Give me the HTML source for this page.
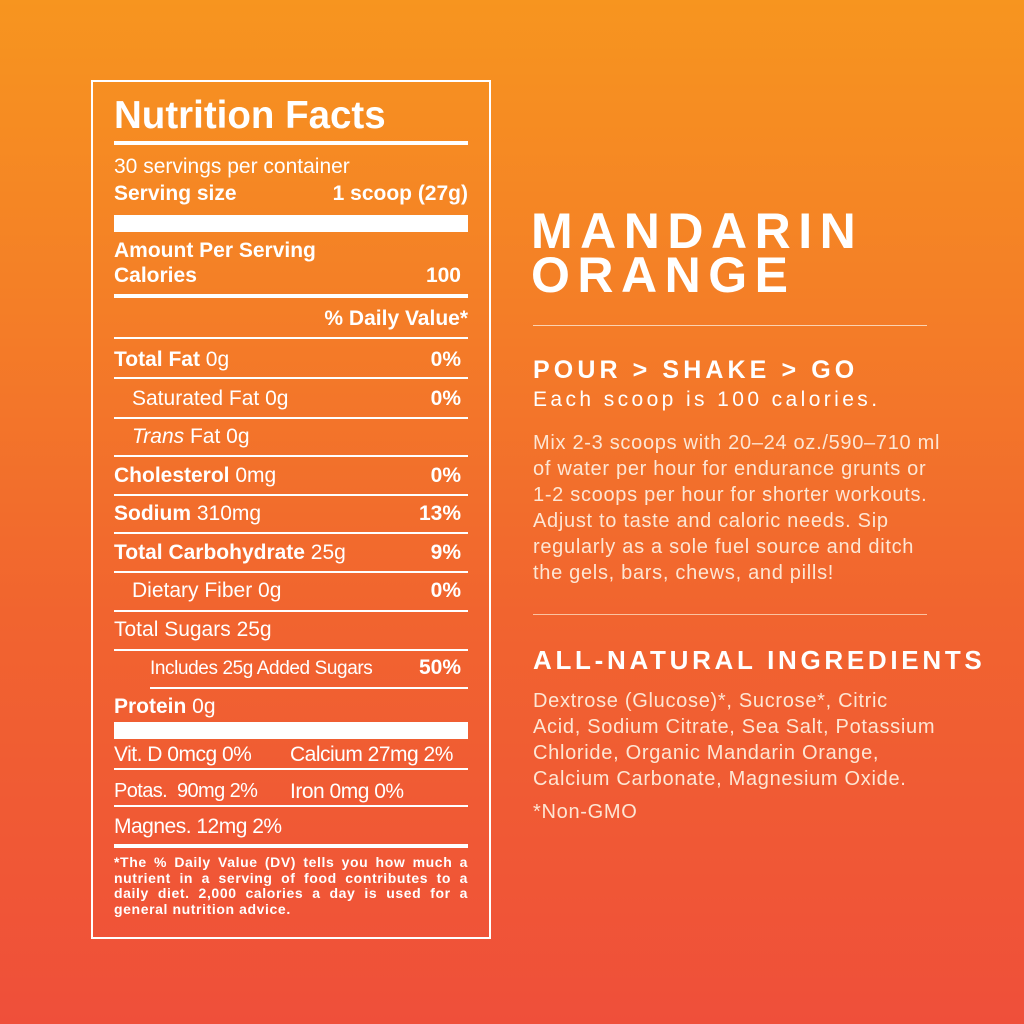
<!DOCTYPE html>
<html><head><meta charset="utf-8"><style>
*{margin:0;padding:0;box-sizing:border-box}
body{width:1024px;height:1024px;overflow:hidden;position:relative;background:linear-gradient(180deg,#F7951F 0%,#F47E27 30%,#F1642F 60%,#EF4F3A 100%);font-family:"Liberation Sans",sans-serif;color:#fff}
.t{position:absolute;white-space:nowrap;line-height:1}
.b{font-weight:bold}
.l{position:absolute;background:#fff}
.box{position:absolute;left:91px;top:80px;width:400px;height:859px;border:2px solid #fff}
.r{position:absolute;white-space:nowrap;line-height:1;color:#fde6d4}
</style></head><body>
<div class="box"></div>
<div class="t b" style="left:114px;top:97px;font-size:38.5px">Nutrition Facts</div>
<div class="l" style="left:114px;top:141px;width:354px;height:4px"></div>
<div class="t" style="left:114px;top:156px;font-size:21px">30 servings per container</div>
<div class="t b" style="left:114px;top:183px;font-size:21px;width:354px">Serving size<span style="position:absolute;right:0">1 scoop (27g)</span></div>
<div class="l" style="left:114px;top:215px;width:354px;height:17px"></div>
<div class="t b" style="left:114px;top:240px;font-size:21px">Amount Per Serving</div>
<div class="t b" style="left:114px;top:265px;font-size:21px;width:347px">Calories<span style="position:absolute;right:0">100</span></div>
<div class="l" style="left:114px;top:294px;width:354px;height:4px"></div>
<div class="t b" style="left:114px;top:308px;font-size:21px;width:354px;text-align:right">% Daily Value*</div>
<div class="l" style="left:114px;top:337px;width:354px;height:2px"></div>

<div class="t" style="left:114px;top:349px;font-size:21px;width:347px"><b>Total Fat</b> 0g<b style="position:absolute;right:0">0%</b></div>
<div class="l" style="left:114px;top:377px;width:354px;height:2px"></div>
<div class="t" style="left:132px;top:388px;font-size:21px;width:329px">Saturated Fat 0g<b style="position:absolute;right:0">0%</b></div>
<div class="l" style="left:114px;top:417px;width:354px;height:2px"></div>
<div class="t" style="left:132px;top:426px;font-size:21px"><i>Trans</i> Fat 0g</div>
<div class="l" style="left:114px;top:455px;width:354px;height:2px"></div>
<div class="t" style="left:114px;top:465px;font-size:21px;width:347px"><b>Cholesterol</b> 0mg<b style="position:absolute;right:0">0%</b></div>
<div class="l" style="left:114px;top:494px;width:354px;height:2px"></div>
<div class="t" style="left:114px;top:503px;font-size:21px;width:347px"><b>Sodium</b> 310mg<b style="position:absolute;right:0">13%</b></div>
<div class="l" style="left:114px;top:532px;width:354px;height:2px"></div>
<div class="t" style="left:114px;top:542px;font-size:21px;width:347px"><b>Total Carbohydrate</b> 25g<b style="position:absolute;right:0">9%</b></div>
<div class="l" style="left:114px;top:571px;width:354px;height:2px"></div>
<div class="t" style="left:132px;top:580px;font-size:21px;width:329px">Dietary Fiber 0g<b style="position:absolute;right:0">0%</b></div>
<div class="l" style="left:114px;top:610px;width:354px;height:2px"></div>
<div class="t" style="left:114px;top:619px;font-size:21px">Total Sugars 25g</div>
<div class="l" style="left:114px;top:649px;width:354px;height:2px"></div>
<div class="t" style="left:150px;top:659px;font-size:19px;width:311px;letter-spacing:-0.4px">Includes 25g Added Sugars<b style="position:absolute;right:0;font-size:21px;top:-2px;letter-spacing:0">50%</b></div>
<div class="l" style="left:150px;top:687px;width:318px;height:2px"></div>
<div class="t" style="left:114px;top:696px;font-size:21px"><b>Protein</b> 0g</div>
<div class="l" style="left:114px;top:722px;width:354px;height:17px"></div>

<div class="t" style="left:114px;top:744px;font-size:21px;letter-spacing:-0.5px">Vit. D 0mcg 0%</div>
<div class="t" style="left:290px;top:744px;font-size:21px;letter-spacing:-0.5px">Calcium 27mg 2%</div>
<div class="l" style="left:114px;top:768px;width:354px;height:2px"></div>
<div class="t" style="left:114px;top:781px;font-size:20px;letter-spacing:-0.6px">Potas.&nbsp; 90mg 2%</div>
<div class="t" style="left:290px;top:781px;font-size:21px;letter-spacing:-0.5px">Iron 0mg 0%</div>
<div class="l" style="left:114px;top:805px;width:354px;height:2px"></div>
<div class="t" style="left:114px;top:816px;font-size:21px;letter-spacing:-0.5px">Magnes. 12mg 2%</div>
<div class="l" style="left:114px;top:844px;width:354px;height:4px"></div>
<div style="position:absolute;left:114px;top:855px;width:354px;font-size:14px;font-weight:bold;line-height:15.5px;letter-spacing:0.6px;text-align:justify;text-align-last:left">*The % Daily Value (DV) tells you how much a nutrient in a serving of food contributes to a daily diet. 2,000 calories a day is used for a general nutrition advice.</div>

<div class="t" style="left:531px;top:206px;font-size:50px;font-weight:900;letter-spacing:7.5px">MANDARIN</div>
<div class="t" style="left:531px;top:250px;font-size:50px;font-weight:900;letter-spacing:7.5px">ORANGE</div>
<div class="l" style="left:533px;top:325px;width:394px;height:1px;background:#fbd3b0"></div>
<div class="t b" style="left:533px;top:358px;font-size:25px;letter-spacing:4.1px">POUR &gt; SHAKE &gt; GO</div>
<div class="t" style="left:533px;top:389px;font-size:21px;letter-spacing:3.4px">Each scoop is 100 calories.</div>
<div class="r" style="left:533px;top:430px;font-size:20px;line-height:26px;letter-spacing:0.7px">Mix 2-3 scoops with 20–24 oz./590–710 ml<br>of water per hour for endurance grunts or<br>1-2 scoops per hour for shorter workouts.<br>Adjust to taste and caloric needs. Sip<br>regularly as a sole fuel source and ditch<br>the gels, bars, chews, and pills!</div>
<div class="l" style="left:533px;top:614px;width:394px;height:1px;background:#fbc3a0"></div>
<div class="t b" style="left:533px;top:647px;font-size:26px;letter-spacing:3.7px">ALL-NATURAL INGREDIENTS</div>
<div class="r" style="left:533px;top:688px;font-size:20px;line-height:26px;letter-spacing:0.7px">Dextrose (Glucose)*, Sucrose*, Citric<br>Acid, Sodium Citrate, Sea Salt, Potassium<br>Chloride, Organic Mandarin Orange,<br>Calcium Carbonate, Magnesium Oxide.</div>
<div class="r" style="left:533px;top:802px;font-size:20px;letter-spacing:0.7px">*Non-GMO</div>
</body></html>
